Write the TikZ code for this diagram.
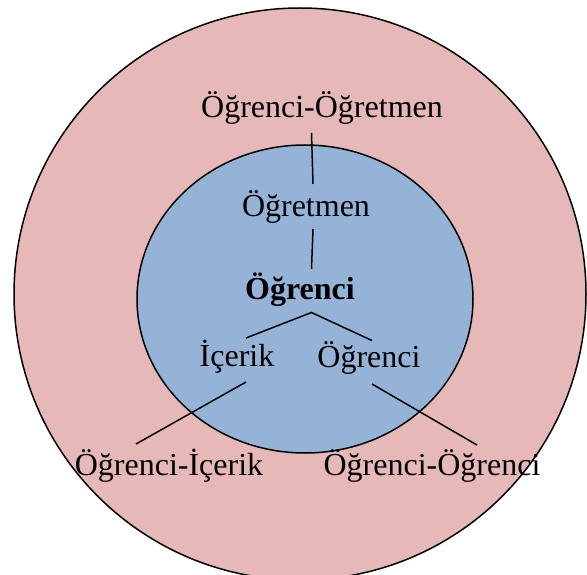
\documentclass[tikz,border=0pt]{standalone}
\usepackage{fontspec}
\setmainfont{Liberation Serif}
\definecolor{outerfill}{RGB}{230,184,183}
\definecolor{innerfill}{RGB}{149,179,215}
\begin{document}
\begin{tikzpicture}[x=1pt,y=-1pt,
  lbl/.style={font=\fontsize{32}{37}\selectfont, inner sep=0pt},
  link/.style={line width=1.5pt}]
\useasboundingbox (0,0) rectangle (587,575);
\clip (0,0) rectangle (587,575);
% outer and inner rings
\draw[fill=outerfill, line width=1.5pt] (300,294) ellipse [x radius=286, y radius=286];
\draw[fill=innerfill, line width=1.5pt] (305,299) ellipse [x radius=168, y radius=154];
% labels
\node[lbl] (os) at (322,108) {Öğrenci-Öğretmen};
\node[lbl] (og) at (306,207) {Öğretmen};
\node[lbl, font=\fontsize{32}{37}\selectfont\bfseries] (st) at (300,290) {Öğrenci};
\node[lbl] (ic) at (237,357) {İçerik};
\node[lbl] (ss) at (369,358) {Öğrenci};
\node[lbl] (oi) at (169,466) {Öğrenci-İçerik};
\node[lbl] (oo) at (432,466) {Öğrenci-Öğrenci};
% connectors
\coordinate (a1) at (311.5,133);
\coordinate (a2) at (313,184);
\coordinate (b1) at (313,229);
\coordinate (b2) at (311.5,269);
\coordinate (apex) at (311.5,312.5);
\coordinate (cl) at (246,338);
\coordinate (cr) at (372,340.5);
\coordinate (d1) at (246,382);
\coordinate (d2) at (136,444);
\coordinate (e1) at (372,384);
\coordinate (e2) at (477,445);
\draw[link] (a1) -- (a2);
\draw[link] (b1) -- (b2);
\draw[link] (cl) -- (apex) -- (cr);
\draw[link] (d1) -- (d2);
\draw[link] (e1) -- (e2);
\end{tikzpicture}
\end{document}
